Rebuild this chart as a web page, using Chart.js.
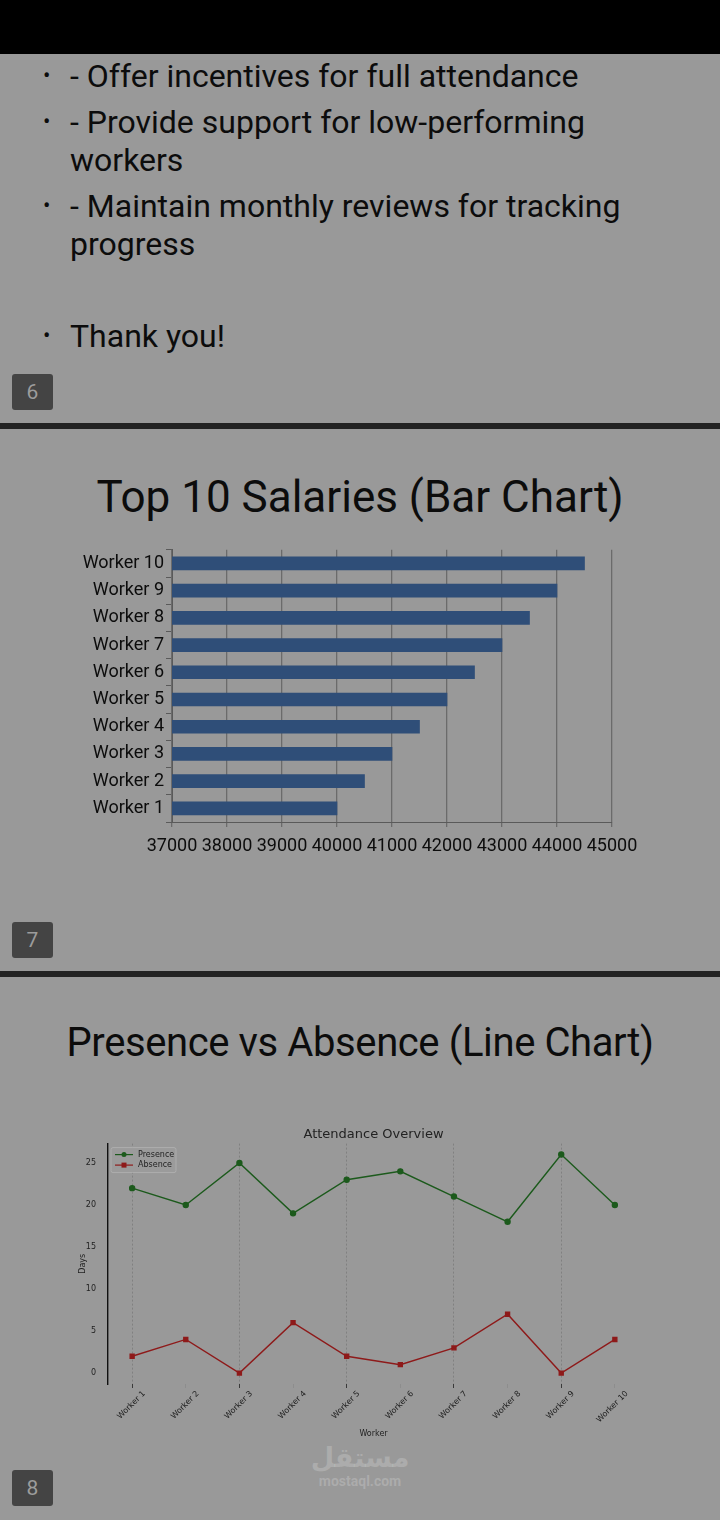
<!DOCTYPE html>
<html>
<head>
<meta charset="utf-8">
<script src="https://cdn.jsdelivr.net/npm/chart.js@4"></script>
<style>
  html, body { margin: 0; padding: 0; }
  body { width: 720px; height: 1520px; background: #999999; position: relative; overflow: hidden; font-family: Roboto, sans-serif; color: #0c0c0c; }
  .abs { position: absolute; }
  .topbar { left: 0; top: 0; width: 720px; height: 54px; background: #000; }
  .sep { left: 0; width: 720px; height: 6px; background: #232323; }
  .line { left: 70px; font-size: 32px; line-height: 38px; white-space: nowrap; }
  .dot { left: 43px; font-size: 22px; line-height: 38px; }
  .num { left: 12px; width: 41px; height: 36px; background: #444; border-radius: 3px; color: #9c9c9c; font-size: 21px; line-height: 36px; text-align: center; }
  .title { left: 0; width: 720px; text-align: center; line-height: 48px; white-space: nowrap; }
  .wm { left: 0; width: 720px; text-align: center; color: rgba(255,255,255,0.2); font-weight: bold; }
  canvas { position: absolute; left: 0; }
</style>
</head>
<body>
<div class="abs topbar"></div>

<div class="abs dot" style="top:57px">•</div>
<div class="abs line" style="top:57px">- Offer incentives for full attendance</div>
<div class="abs dot" style="top:103px">•</div>
<div class="abs line" style="top:103px">- Provide support for low-performing</div>
<div class="abs line" style="top:141px">workers</div>
<div class="abs dot" style="top:187px">•</div>
<div class="abs line" style="top:187px">- Maintain monthly reviews for tracking</div>
<div class="abs line" style="top:225px">progress</div>
<div class="abs dot" style="top:317px">•</div>
<div class="abs line" style="top:317px">Thank you!</div>
<div class="abs num" style="top:374px">6</div>

<div class="abs sep" style="top:423px"></div>
<div class="abs title" style="top:473px;font-size:44px">Top 10 Salaries (Bar Chart)</div>
<div style="position:absolute;left:0;top:537px;width:720px;height:337px"><canvas id="bars" width="720" height="337"></canvas></div>
<div class="abs num" style="top:922px">7</div>

<div class="abs sep" style="top:971px"></div>
<div class="abs title" style="top:1019px;font-size:40px;letter-spacing:-0.4px">Presence vs Absence (Line Chart)</div>
<div style="position:absolute;left:0;top:1121px;width:720px;height:320px"><canvas id="lines" width="720" height="320"></canvas></div>
<div class="abs wm" style="top:1442px;font-size:27px;line-height:32px;font-family:'DejaVu Sans',sans-serif">مستقل</div>
<div class="abs wm" style="top:1473px;font-size:14px;line-height:16px">mostaql.com</div>
<div class="abs num" style="top:1470px">8</div>

<script>
// slide 7 data
const workers = ["Worker 1", "Worker 2", "Worker 3", "Worker 4", "Worker 5",
                 "Worker 6", "Worker 7", "Worker 8", "Worker 9", "Worker 10"];
const salaries = [40000, 40500, 41000, 41500, 42000, 42500, 43000, 43500, 44000, 44500];
const salaryMin = 37000;
const salaryMax = 45000;

// slide 8 data
const presence = [22, 20, 25, 19, 23, 24, 21, 18, 26, 20];
const absence = [2, 4, 0, 6, 2, 1, 3, 7, 0, 4];
const dayTicks = [0, 5, 10, 15, 20, 25];

Chart.defaults.animation = false;
Chart.defaults.font.family = "Roboto, sans-serif";

new Chart(document.getElementById("bars").getContext("2d"), {
  type: "bar",
  data: {
    labels: workers,
    datasets: [{
      data: salaries,
      backgroundColor: "#2f4e78",
      barThickness: 13
    }]
  },
  options: {
    indexAxis: "y",
    responsive: false,
    layout: { padding: { top: 0, right: 108, left: 0, bottom: 0 } },
    plugins: { legend: { display: false }, tooltip: { enabled: false } },
    scales: {
      y: {
        reverse: true,
        afterFit: s => { s.width = 172; },
        grid: { drawOnChartArea: false, color: "#5a5a5a", tickLength: 6 },
        border: { color: "#5a5a5a", width: 1 },
        ticks: { color: "#0c0c0c", font: { size: 18 }, padding: 2 }
      },
      x: {
        min: salaryMin,
        max: salaryMax,
        afterFit: s => { s.height = 52; },
        grid: { color: "#6b6b6b", lineWidth: 1.3, tickLength: 5 },
        border: { color: "#5a5a5a", width: 1 },
        ticks: { stepSize: 1000, callback: v => String(v), color: "#0c0c0c", font: { size: 18 }, padding: 9, maxRotation: 0 }
      }
    }
  }
});

// matplotlib-style legend box (line + marker)
const legendBox = {
  id: "legendBox",
  afterDatasetsDraw(chart) {
    const { ctx, chartArea } = chart;
    const x = chartArea.left + 3, y = chartArea.top + 4;
    ctx.save();
    ctx.fillStyle = "#9b9b9b";
    ctx.strokeStyle = "#b2b2b2";
    ctx.lineWidth = 0.8;
    ctx.beginPath();
    ctx.roundRect(x, y, 65, 25, 2);
    ctx.fill();
    ctx.stroke();
    ctx.font = "8px 'DejaVu Sans', sans-serif";
    ctx.textBaseline = "middle";
    chart.data.datasets.forEach((ds, i) => {
      const cy = y + 7 + i * 10.5;
      ctx.strokeStyle = ds.borderColor;
      ctx.lineWidth = 1.2;
      ctx.beginPath();
      ctx.moveTo(x + 4, cy);
      ctx.lineTo(x + 22, cy);
      ctx.stroke();
      ctx.fillStyle = ds.borderColor;
      if (ds.pointStyle === "rect") ctx.fillRect(x + 10.5, cy - 2.5, 5, 5);
      else { ctx.beginPath(); ctx.arc(x + 13, cy, 2.5, 0, Math.PI * 2); ctx.fill(); }
      ctx.fillStyle = "#222";
      ctx.fillText(ds.label, x + 27, cy);
    });
    ctx.restore();
  }
};

const dashGrid = c => (c.tick && c.tick.value % 2 === 0) ? "#7a7a7a" : "transparent";

new Chart(document.getElementById("lines").getContext("2d"), {
  type: "line",
  data: {
    datasets: [
      {
        label: "Presence",
        data: presence.map((v, i) => ({ x: i, y: v })),
        borderColor: "#1c5a1c",
        backgroundColor: "#1c5a1c",
        borderWidth: 1.4,
        pointRadius: 2.5,
        pointStyle: "circle"
      },
      {
        label: "Absence",
        data: absence.map((v, i) => ({ x: i, y: v })),
        borderColor: "#8e1a1a",
        backgroundColor: "#8e1a1a",
        borderWidth: 1.4,
        pointRadius: 2.8,
        pointStyle: "rect"
      }
    ]
  },
  options: {
    responsive: false,
    layout: { padding: { top: 5, right: 81, left: 76, bottom: 0 } },
    plugins: {
      legend: { display: false },
      tooltip: { enabled: false },
      title: {
        display: true,
        fullSize: false,
        text: "Attendance Overview",
        color: "#222",
        font: { size: 13, weight: "normal", family: "'DejaVu Sans', sans-serif" },
        padding: { top: 1, bottom: 1 }
      }
    },
    scales: {
      x: {
        type: "linear",
        min: -0.45,
        max: 9.45,
        afterFit: s => { s.height = 57; },
        afterBuildTicks: s => { s.ticks = workers.map((w, i) => ({ value: i })); },
        border: { display: false, dash: [2, 2] },
        grid: {
          color: dashGrid,
          tickColor: c => (c.tick && c.tick.value % 2 === 0) ? "#222" : "#8a8a8a",
          lineWidth: 0.8,
          tickLength: 4
        },
        ticks: {
          callback: v => workers[v],
          minRotation: 45,
          maxRotation: 45,
          labelOffset: 12,
          padding: 1,
          color: "#222",
          font: { size: 8, family: "'DejaVu Sans', sans-serif" }
        },
        title: { display: true, text: "Worker", color: "#222", font: { size: 8, family: "'DejaVu Sans', sans-serif" }, padding: 2 }
      },
      y: {
        min: -1.3,
        max: 27.3,
        afterFit: s => { s.width = 32; },
        afterBuildTicks: s => { s.ticks = dayTicks.map(v => ({ value: v })); },
        grid: { display: false },
        border: { color: "#111", width: 1.4 },
        ticks: { color: "#222", padding: 4, font: { size: 8, family: "'DejaVu Sans', sans-serif" } },
        title: { display: true, text: "Days", color: "#222", font: { size: 8, family: "'DejaVu Sans', sans-serif" }, padding: 2 }
      }
    }
  },
  plugins: [legendBox]
});
</script>
</body>
</html>
